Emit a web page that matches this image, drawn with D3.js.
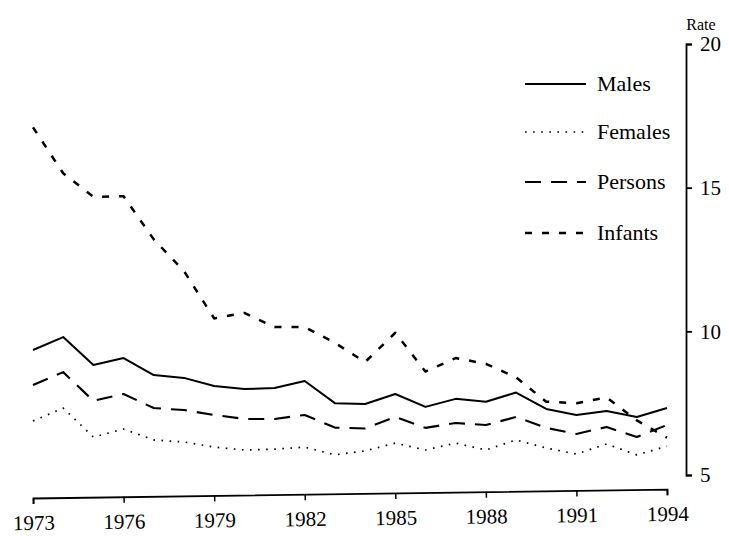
<!DOCTYPE html>
<html>
<head>
<meta charset="utf-8">
<script src="https://cdn.jsdelivr.net/npm/d3@7"></script>
<style>
html,body{margin:0;padding:0;background:#fff;}
svg{display:block;}
text{font-family:"Liberation Serif","Times New Roman",serif;fill:#000;}
</style>
</head>
<body>
<svg id="chart" width="729" height="536"></svg>
<script>
const years = d3.range(1973, 1995);
const males   = [9.35,9.8,8.83,9.07,8.48,8.38,8.1,7.99,8.03,8.27,7.5,7.47,7.82,7.37,7.65,7.55,7.87,7.3,7.09,7.23,7.02,7.33];
const females = [6.88,7.33,6.32,6.6,6.22,6.15,5.97,5.87,5.9,5.97,5.7,5.84,6.11,5.87,6.11,5.87,6.22,5.94,5.73,6.08,5.7,6.0];
const persons = [8.13,8.58,7.58,7.82,7.33,7.26,7.09,6.95,6.95,7.09,6.65,6.62,7.02,6.64,6.81,6.74,7.02,6.64,6.43,6.67,6.32,6.74];
const infants = [17.1,15.5,14.68,14.7,13.2,12.1,10.45,10.64,10.15,10.15,9.6,8.93,9.95,8.6,9.07,8.87,8.4,7.55,7.5,7.7,6.9,6.3];
const xTicks = [1973,1976,1979,1982,1985,1988,1991,1994];
const yTicks = [5,10,15,20];
const seriesNames = ["Males","Females","Persons","Infants"];

const svg = d3.select("#chart");
const x = d3.scaleLinear().domain([1973,1994]).range([33,667]);
const y = d3.scaleLinear().domain([5,20]).range([475,44]);

const styles = {
  Males:   {dash:null,   w:2},
  Females: {dash:"1.6,6.5", w:1.7},
  Persons: {dash:"16,10", w:2.1},
  Infants: {dash:"7,10", w:2.5}
};
const data = {Males:males, Females:females, Persons:persons, Infants:infants};

const line = d3.line().x((d,i)=>x(years[i])).y(d=>y(d));
seriesNames.forEach(name=>{
  svg.append("path")
    .datum(data[name])
    .attr("d", line)
    .attr("fill","none")
    .attr("stroke","#000")
    .attr("stroke-width", styles[name].w)
    .attr("stroke-dasharray", styles[name].dash)
    .attr("stroke-linejoin","round");
});

// y axis on the right
const yAxis = svg.append("g")
  .attr("transform","translate(686,0)")
  .call(d3.axisRight(y).tickValues(yTicks).tickSize(6).tickPadding(8).tickFormat(d3.format("d")));
yAxis.select(".domain").attr("stroke-width",1.8);
yAxis.selectAll(".tick line").attr("stroke-width",1.8);
yAxis.selectAll("text").style("font-size","21px").style("font-family","Liberation Serif");
svg.append("text").attr("x",701).attr("y",30).attr("text-anchor","middle")
  .style("font-size","16px").text("Rate");

// x axis (slightly tilted as in the scan)
const xAxis = svg.append("g")
  .attr("transform","translate(0,498) rotate(-0.8,33,0)")
  .call(d3.axisBottom(x).tickValues(xTicks).tickSize(6).tickPadding(11).tickFormat(d3.format("d")));
xAxis.select(".domain").attr("stroke-width",1.8);
xAxis.selectAll(".tick line").attr("stroke-width",1.5);
xAxis.selectAll("text").style("font-size","21px").style("font-family","Liberation Serif");

// legend
const legY = [84,132,182,233];
seriesNames.forEach((name,i)=>{
  svg.append("line").attr("x1",525).attr("x2",586).attr("y1",legY[i]).attr("y2",legY[i])
    .attr("stroke","#000").attr("stroke-width",styles[name].w)
    .attr("stroke-dasharray",styles[name].dash);
  svg.append("text").attr("x",597).attr("y",legY[i]+7).style("font-size","22px").text(name);
});
</script>
</body>
</html>
